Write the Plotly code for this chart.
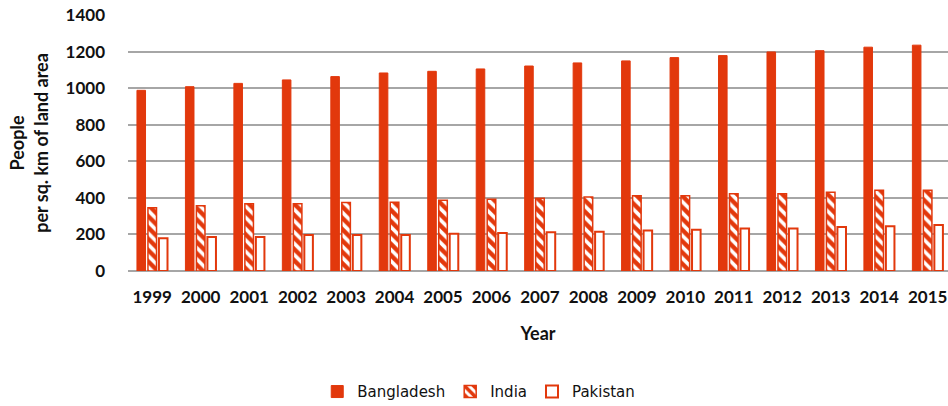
import plotly.graph_objects as go

years = [str(y) for y in range(1999, 2016)]
bangladesh = [988, 1008, 1026, 1045, 1063, 1083, 1092, 1105, 1121, 1138, 1149, 1167, 1178, 1198, 1205, 1224, 1235]
india = [346, 357, 368, 368, 374, 376, 387, 393, 398, 405, 412, 412, 423, 423, 430, 441, 441]
pakistan = [179, 186, 186, 197, 197, 197, 204, 208, 212, 215, 222, 226, 233, 233, 240, 245, 251]

RED = "#E2380C"
FONT = "Lato"

fig = go.Figure()
fig.add_trace(go.Bar(name="Bangladesh", x=years, y=bangladesh,
                     marker=dict(color=RED, line=dict(color=RED, width=1))))
fig.add_trace(go.Bar(name="India", x=years, y=india,
                     marker=dict(color="white", line=dict(color=RED, width=1.5),
                                 pattern=dict(shape="\\", fgcolor=RED, bgcolor="white",
                                              size=8, solidity=0.55, fillmode="replace"))))
fig.add_trace(go.Bar(name="Pakistan", x=years, y=pakistan,
                     marker=dict(color="white", line=dict(color=RED, width=2))))

fig.update_layout(
    template="none",
    width=948, height=406,
    margin=dict(l=128, r=0, t=15, b=135, pad=0),
    barmode="group", bargap=0.32, bargroupgap=0.22,
    plot_bgcolor="white", paper_bgcolor="white",
    font=dict(family=FONT, color="#111111"),
    showlegend=True,
    legend=dict(orientation="h", xref="container", yref="container",
                x=0.505, y=0.035, xanchor="center", yanchor="middle",
                font=dict(family="DejaVu Sans", size=15, color="#111"),
                itemwidth=30, tracegroupgap=0),
    xaxis=dict(type="category", range=[-0.5, 16.42], automargin=False,
               showgrid=False, showline=False, zeroline=False, ticks="",
               tickfont=dict(family=FONT, size=17, weight="bold", color="#111111"),
               ticklabelstandoff=14,
               title=dict(text="Year", font=dict(family=FONT, size=18, weight="bold"),
                          standoff=21)),
    yaxis=dict(range=[0, 1400], dtick=200, automargin=False,
               showgrid=True, gridcolor="#a6a6a6", gridwidth=1.5,
               zeroline=True, zerolinecolor="#a6a6a6", zerolinewidth=1.5,
               showline=False, ticks="",
               tickfont=dict(family=FONT, size=17, weight="bold", color="#111111"),
               ticklabelstandoff=22,
               title=dict(text="People<br>per sq. km of land area",
                          font=dict(family=FONT, size=18, weight="bold"),
                          standoff=12)),
)

fig.write_html("out.html")
